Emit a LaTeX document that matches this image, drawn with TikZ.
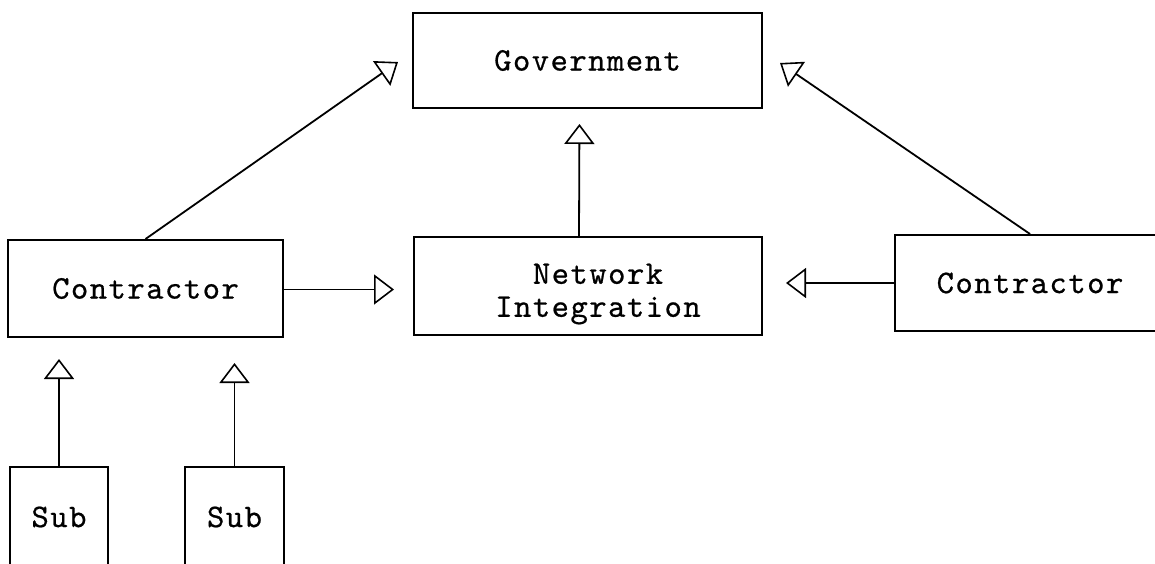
\documentclass[tikz,border=0pt]{standalone}
\usepackage{fontspec}
\usetikzlibrary{arrows.meta}
% typewriter face for the box labels, tracked out a little
\newfontfamily\typefont{lmmono10-regular.otf}[LetterSpace=4.5,FakeBold=0.6]
\begin{document}
\begin{tikzpicture}[x=1pt,y=-1pt,
  boxfont/.style={font=\typefont\fontsize{33}{33}\selectfont},
  box/.style={draw, line width=2pt, inner sep=0pt, align=center, boxfont},
  flow/.style={line width=1.8pt,
    -{Triangle[length=20pt,width=30pt,fill=white,line width=1.6pt]}}]
  \useasboundingbox (0,0) rectangle (1155,563);
  \clip (0,0) rectangle (1155,563);

  % boxes
  \node[box, minimum width=349pt, minimum height=95pt] (gov) at (587.5,60.5) {Government};
  \node[box, minimum width=275pt, minimum height=97pt] (lc) at (145.5,288.5) {Contractor};
  \node[box, minimum width=348pt, minimum height=98pt] (ni) at (588,286) {};
  \node[boxfont, align=center, inner sep=0pt] (nitext) at (598,294) {Network\\Integration};
  \node[box, minimum width=270pt, minimum height=96pt] (rc) at (1030,283) {Contractor};
  \node[box, minimum width=98pt, minimum height=100pt] (s1) at (59,517) {Sub};
  \node[box, minimum width=99pt, minimum height=100pt] (s2) at (234.5,517) {Sub};

  % free ends of the diagonal arrows, beside the Government box
  \coordinate (gl) at (398,62);
  \coordinate (gr) at (780,63);

  % connectors
  \draw[flow] (lc.north) -- (gl);
  \draw[flow] (rc.north) -- (gr);
  \draw[flow, shorten >=15pt] ([xshift=-9pt]ni.north) -- ([xshift=-8pt]gov.south);
  \draw[flow, shorten >=19pt] ([yshift=-1pt]lc.east) -- ([yshift=-1pt]lc.east -| ni.west);
  \draw[flow, shorten >=23pt] (rc.west) -- (rc.west -| ni.east);
  \draw[flow, shorten >=21pt] (s1.north) -- (s1.north |- lc.south);
  \draw[flow, shorten >=25pt] (s2.north) -- (s2.north |- lc.south);
\end{tikzpicture}
\end{document}
